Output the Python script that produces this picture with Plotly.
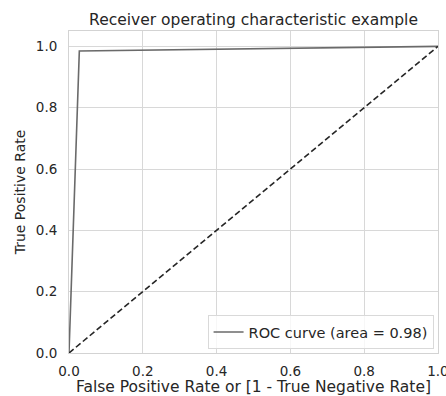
import plotly.graph_objects as go

fpr = [0.0, 0.028, 1.0]
tpr = [0.0, 0.985, 1.0]
diag_x = [0.0, 1.0]
diag_y = [0.0, 1.0]
roc_auc = 0.98
xticks = [0.0, 0.2, 0.4, 0.6, 0.8, 1.0]
yticks = [0.0, 0.2, 0.4, 0.6, 0.8, 1.0]

fig = go.Figure()
fig.add_trace(go.Scatter(x=fpr, y=tpr, mode="lines",
                         line=dict(color="#6a6a6a", width=1.6),
                         name="ROC curve (area = %0.2f)" % roc_auc))
fig.add_trace(go.Scatter(x=diag_x, y=diag_y, mode="lines",
                         line=dict(color="#262626", width=1.6, dash="6px,3px"),
                         showlegend=False))

font = "DejaVu Sans"
fig.update_layout(
    width=446, height=396,
    margin=dict(l=69, r=8, t=31, b=43),
    paper_bgcolor="white", plot_bgcolor="white",
    font=dict(family=font, color="#262626", size=13.5),
    title=dict(text="Receiver operating characteristic example",
               x=0.5, xanchor="center", xref="paper", y=1 - 20/396, yanchor="middle",
               font=dict(size=15.5, color="#262626")),
    showlegend=True,
    legend=dict(x=0.988, y=0.012, xanchor="right", yanchor="bottom",
                bgcolor="rgba(255,255,255,0.8)", bordercolor="#d9d9d9", borderwidth=1,
                font=dict(size=14.5, color="#262626")),
)
fig.update_xaxes(range=[0, 1.0001], tickvals=xticks, ticktext=["%.1f" % v for v in xticks],
                 showgrid=True, gridcolor="#d8d8d8", gridwidth=1,
                 showline=True, linecolor="#d3d3d3", linewidth=1, mirror=True,
                 zeroline=False, ticks="", tickfont=dict(size=13.5), ticklabelstandoff=6,
                 ticklabeloverflow="allow", automargin=False,
                 title=dict(text="False Positive Rate or [1 - True Negative Rate]",
                            font=dict(size=15.5), standoff=1))
fig.update_yaxes(range=[0, 1.05], tickvals=yticks, ticktext=["%.1f" % v for v in yticks],
                 showgrid=True, gridcolor="#d8d8d8", gridwidth=1,
                 showline=True, linecolor="#d3d3d3", linewidth=1, mirror=True,
                 zeroline=False, ticks="", tickfont=dict(size=13.5), ticklabelstandoff=8,
                 automargin=False,
                 title=dict(text="True Positive Rate", font=dict(size=14), standoff=6))

fig.write_html("out.html")
